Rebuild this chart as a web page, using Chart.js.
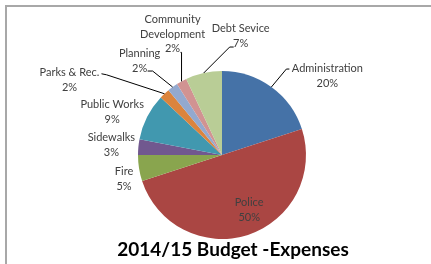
<!DOCTYPE html>
<html lang="en">
<head>
    <meta charset="UTF-8">
    <title>2014/15 Budget -Expenses</title>
    <script src="https://cdn.jsdelivr.net/npm/chart.js"></script>
    <style>
        body {
            margin: 0;
            padding: 0;
            background: #fff;
            overflow: hidden;
        }
        #wrap {
            position: relative;
            width: 431px;
            height: 264px;
        }
        #frame {
            position: absolute;
            left: 5px;
            top: 5px;
            width: 440px;
            height: 280px;
            border-left: 2px solid #a8a8a8;
            border-top: 2px solid #a8a8a8;
            pointer-events: none;
        }
    </style>
</head>
<body>
    <div id="wrap">
        <canvas id="budgetChart" width="431" height="264"></canvas>
        <div id="frame"></div>
    </div>

    <script>
        // data
        const categories = ['Administration', 'Police', 'Fire', 'Sidewalks', 'Public Works',
                            'Parks & Rec.', 'Planning', 'Community Development', 'Debt Sevice'];
        const percents = [20, 50, 5, 3, 9, 2, 2, 2, 7];
        const chartTitle = '2014/15 Budget -Expenses';

        const colors = ['#4572a7', '#aa4643', '#89a54e', '#71588f', '#4198af',
                        '#db843d', '#93a9cf', '#d19392', '#b9cd96'];

        // label text lines, offset of the text block from the slice's outer edge midpoint
        // (police sits inside the slice), and leader line points relative to the edge point
        const labelLines = [
            ['Administration'], ['Police'], ['Fire'], ['Sidewalks'], ['Public Works'],
            ['Parks & Rec.'], ['Planning'], ['Community', 'Development'], ['Debt Sevice']
        ];
        const labelOffsets = [
            [56, -11], [9, -1], [-15, 11], [-27, -2], [-35, -5],
            [-95, -14], [-33, -26], [-9, -47], [37, -37]
        ];
        const leaders = [
            [[15, -18], [18, -18]], null, null, null, null,
            [[-58, -19], [-63, -20]], [[-20, -16], [-25, -16]],
            [[0, -29], [-1, -29]], [[26, -26], [30, -26]]
        ];

        const labelPlugin = {
            id: 'sliceLabels',
            afterDatasetsDraw(chart) {
                const ctx = chart.ctx;
                const meta = chart.getDatasetMeta(0);
                ctx.save();
                ctx.font = '11px Lato, "Open Sans", sans-serif';
                ctx.textAlign = 'center';
                ctx.textBaseline = 'middle';
                meta.data.forEach((arc, i) => {
                    const p = arc.getProps(['x', 'y', 'startAngle', 'endAngle', 'outerRadius']);
                    const mid = (p.startAngle + p.endAngle) / 2;
                    const f = i === 1 ? 0.7 : 1;
                    const ex = p.x + Math.cos(mid) * p.outerRadius * f;
                    const ey = p.y + Math.sin(mid) * p.outerRadius * f;
                    const cx = ex + labelOffsets[i][0];
                    const cy = ey + labelOffsets[i][1];
                    if (leaders[i]) {
                        ctx.strokeStyle = '#000';
                        ctx.lineWidth = 1;
                        ctx.beginPath();
                        ctx.moveTo(ex, ey);
                        leaders[i].forEach(pt => ctx.lineTo(ex + pt[0], ey + pt[1]));
                        ctx.stroke();
                    }
                    const lines = labelLines[i].concat([percents[i] + '%']);
                    const lh = 14.5;
                    const top = cy - (lines.length - 1) * lh / 2;
                    ctx.fillStyle = '#404040';
                    lines.forEach((t, k) => ctx.fillText(t, cx, top + k * lh));
                });
                // title
                ctx.fillStyle = '#000';
                ctx.font = 'bold 19px Lato, "Open Sans", sans-serif';
                ctx.fillText(chartTitle, 233, 250);
                ctx.restore();
            }
        };

        new Chart(document.getElementById('budgetChart').getContext('2d'), {
            type: 'pie',
            data: {
                labels: categories,
                datasets: [{
                    data: percents,
                    backgroundColor: colors,
                    borderWidth: 0,
                    hoverOffset: 0
                }]
            },
            options: {
                responsive: false,
                animation: false,
                layout: {
                    padding: { left: 138, right: 125, top: 71, bottom: 25 }
                },
                plugins: {
                    legend: { display: false },
                    tooltip: { enabled: false }
                }
            },
            plugins: [labelPlugin]
        });
    </script>
</body>
</html>
